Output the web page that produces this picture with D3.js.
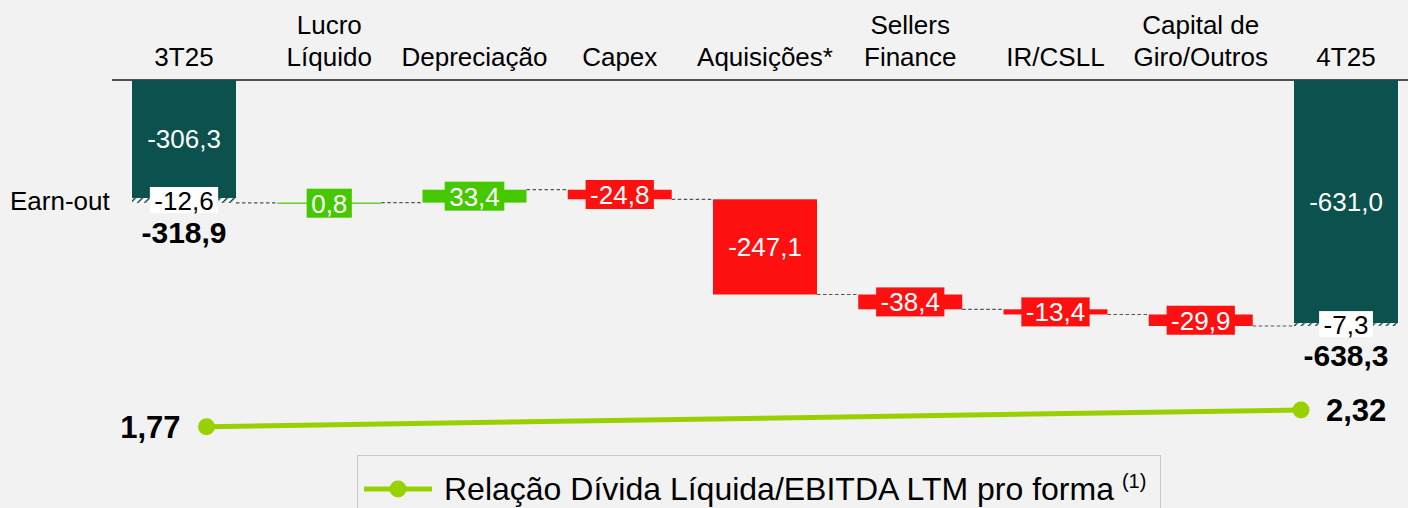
<!DOCTYPE html>
<html>
<head>
<meta charset="utf-8">
<script src="https://cdn.jsdelivr.net/npm/d3@7"></script>
<style>
  html, body { margin: 0; padding: 0; background: #f2f2f2; }
  svg { display: block; font-family: "Liberation Sans", Arial, sans-serif; }
</style>
</head>
<body>
<svg id="chart" width="1408" height="508"></svg>
<script>
// ---------- DATA ----------
const categories = ["3T25", "Lucro Líquido", "Depreciação", "Capex", "Aquisições*",
  "Sellers Finance", "IR/CSLL", "Capital de Giro/Outros", "4T25"];
const headerLines = [["3T25"], ["Lucro", "Líquido"], ["Depreciação"], ["Capex"], ["Aquisições*"],
  ["Sellers", "Finance"], ["IR/CSLL"], ["Capital de", "Giro/Outros"], ["4T25"]];
const stepCategories = ["Lucro Líquido", "Depreciação", "Capex", "Aquisições*",
  "Sellers Finance", "IR/CSLL", "Capital de Giro/Outros"];
const stepValues = [0.8, 33.4, -24.8, -247.1, -38.4, -13.4, -29.9];
const totalCategories = ["3T25", "4T25"];
const totalBaseValues = [-306.3, -631.0];
const earnOutValues = [-12.6, -7.3];
const totalValues = [-318.9, -638.3];
const ratioPeriods = ["3T25", "4T25"];
const ratioValues = [1.77, 2.32];
const earnOutLabel = "Earn-out";
const legendLabel = "Relação Dívida Líquida/EBITDA LTM pro forma";
const legendNote = "(1)";

// ---------- SETUP ----------
const colors = { teal: "#0b514e", green: "#45c800", red: "#ff1010", lime: "#99d100", dash: "#555" };
const locale = d3.formatLocale({ decimal: ",", thousands: ".", grouping: [3], currency: ["R$", ""], minus: "-" });
const f1 = locale.format(".1f");
const f2 = locale.format(".2f");

const svg = d3.select("#chart");
const W = 1408, H = 508;
svg.append("rect").attr("width", W).attr("height", H).attr("fill", "#f2f2f2");

const defs = svg.append("defs");
const pat = defs.append("pattern").attr("id", "hatch").attr("patternUnits", "userSpaceOnUse")
  .attr("width", 5).attr("height", 5).attr("patternTransform", "rotate(45)");
pat.append("rect").attr("width", 5).attr("height", 5).attr("fill", "#ffffff");
pat.append("rect").attr("width", 1.4).attr("height", 5).attr("fill", "#0b3d3b");

const x = d3.scalePoint().domain(categories).range([184, 1346]);
const barW = x.step() * 0.716;
const y = d3.scaleLinear().domain([0, -650]).range([80, 80 + 650 * 246 / 638.3]);

// header
const header = svg.append("g");
header.append("line").attr("x1", 112).attr("x2", W).attr("y1", 80).attr("y2", 80)
  .attr("stroke", "#1a1a1a").attr("stroke-width", 1.6);
categories.forEach((c, i) => {
  const lines = headerLines[i];
  const t = header.append("text").attr("x", x(c)).attr("text-anchor", "middle")
    .attr("font-size", 26).attr("fill", "#000");
  lines.forEach((ln, j) => {
    t.append("tspan").attr("x", x(c)).attr("y", 66 - (lines.length - 1 - j) * 32).text(ln);
  });
});

// build waterfall steps
let level = totalValues[0];
const steps = stepCategories.map((c, i) => {
  const start = level;
  const end = level + stepValues[i];
  level = end;
  return { cat: c, value: stepValues[i], start, end };
});

// connectors
const levels = [{ cat: categories[0], lvl: totalValues[0] }]
  .concat(steps.map(s => ({ cat: s.cat, lvl: s.end })));
const conn = svg.append("g");
levels.forEach((d, i) => {
  const next = categories[i + 1];
  conn.append("line")
    .attr("x1", x(d.cat) + barW / 2).attr("x2", x(next) - barW / 2)
    .attr("y1", y(d.lvl)).attr("y2", y(d.lvl))
    .attr("stroke", colors.dash).attr("stroke-width", 1.2).attr("stroke-dasharray", "3.5,2.5");
});

// total bars
const totals = svg.append("g");
totalCategories.forEach((c, i) => {
  const cx = x(c);
  totals.append("rect").attr("x", cx - barW / 2).attr("width", barW)
    .attr("y", y(0)).attr("height", y(totalBaseValues[i]) - y(0)).attr("fill", colors.teal);
  totals.append("rect").attr("x", cx - barW / 2).attr("width", barW)
    .attr("y", y(totalBaseValues[i])).attr("height", y(totalValues[i]) - y(totalBaseValues[i]))
    .attr("fill", "url(#hatch)");
  // base label
  totals.append("text").attr("x", cx).attr("y", (y(0) + y(totalBaseValues[i])) / 2)
    .attr("dy", "0.36em").attr("text-anchor", "middle").attr("font-size", 26)
    .attr("fill", "#fff").text(f1(totalBaseValues[i]));
  // earn-out label on white box
  const ey = (y(totalBaseValues[i]) + y(totalValues[i])) / 2;
  const g = totals.append("g");
  const t = g.append("text").attr("x", cx).attr("y", ey).attr("dy", "0.36em")
    .attr("text-anchor", "middle").attr("font-size", 26).attr("fill", "#000")
    .text(f1(earnOutValues[i]));
  const tw = t.node().getComputedTextLength();
  g.insert("rect", "text").attr("x", cx - tw / 2 - 4.5).attr("width", tw + 9)
    .attr("y", ey - 13.5).attr("height", 26).attr("fill", "#fff");
  // total bold
  totals.append("text").attr("x", cx).attr("y", y(totalValues[i]) + 29.5).attr("dy", "0.36em")
    .attr("text-anchor", "middle").attr("font-size", 30).attr("font-weight", "bold")
    .attr("fill", "#000").text(f1(totalValues[i]));
});
svg.append("text").attr("x", 10).attr("y", (y(totalBaseValues[0]) + y(totalValues[0])) / 2)
  .attr("dy", "0.36em").attr("font-size", 26).attr("fill", "#000").text(earnOutLabel);

// step bars
const stepG = svg.append("g");
steps.forEach(s => {
  const cx = x(s.cat);
  const top = Math.min(y(s.start), y(s.end));
  const h = Math.max(Math.abs(y(s.end) - y(s.start)), 1.2);
  const col = s.value >= 0 ? colors.green : colors.red;
  stepG.append("rect").attr("x", cx - barW / 2).attr("width", barW)
    .attr("y", top).attr("height", h).attr("fill", col);
  const cy = top + h / 2;
  const g = stepG.append("g");
  const t = g.append("text").attr("x", cx).attr("y", cy).attr("dy", "0.36em")
    .attr("text-anchor", "middle").attr("font-size", 26).attr("fill", "#fff").text(f1(s.value));
  if (h < 30) {
    const tw = t.node().getComputedTextLength();
    g.insert("rect", "text").attr("x", cx - tw / 2 - 4.5).attr("width", tw + 9)
      .attr("y", cy - 14.5).attr("height", 29).attr("fill", col);
  }
});

// ratio line
const xr = d3.scalePoint().domain(ratioPeriods).range([206.5, 1301]);
const yr = d3.scaleLinear().domain([0, 3]).range([480.4, 389.3]);
const lineG = svg.append("g");
const pts = ratioPeriods.map((p, i) => ({ p, v: ratioValues[i] }));
lineG.append("path").datum(pts)
  .attr("d", d3.line().x(d => xr(d.p)).y(d => yr(d.v)))
  .attr("fill", "none").attr("stroke", colors.lime).attr("stroke-width", 5);
lineG.selectAll("circle").data(pts).join("circle")
  .attr("cx", d => xr(d.p)).attr("cy", d => yr(d.v)).attr("r", 8.5).attr("fill", colors.lime);
lineG.selectAll("text").data(pts).join("text")
  .attr("x", (d, i) => i === 0 ? xr(d.p) - 26 : xr(d.p) + 25)
  .attr("y", d => yr(d.v)).attr("dy", "0.36em")
  .attr("text-anchor", (d, i) => i === 0 ? "end" : "start")
  .attr("font-size", 31).attr("font-weight", "bold").attr("fill", "#000")
  .text(d => f2(d.v));

// legend
const lg = svg.append("g");
lg.append("rect").attr("x", 357.5).attr("y", 455.5).attr("width", 803).attr("height", 70)
  .attr("fill", "none").attr("stroke", "#c8c8c8").attr("stroke-width", 1);
lg.append("line").attr("x1", 364).attr("x2", 432).attr("y1", 489).attr("y2", 489)
  .attr("stroke", colors.lime).attr("stroke-width", 5);
lg.append("circle").attr("cx", 398).attr("cy", 489).attr("r", 8.5).attr("fill", colors.lime);
const lt = lg.append("text").attr("x", 444).attr("y", 500).attr("font-size", 32).attr("fill", "#000");
lt.append("tspan").text(legendLabel);
lt.append("tspan").attr("dx", 8).attr("dy", -12).attr("font-size", 20).text(legendNote);
</script>
</body>
</html>
